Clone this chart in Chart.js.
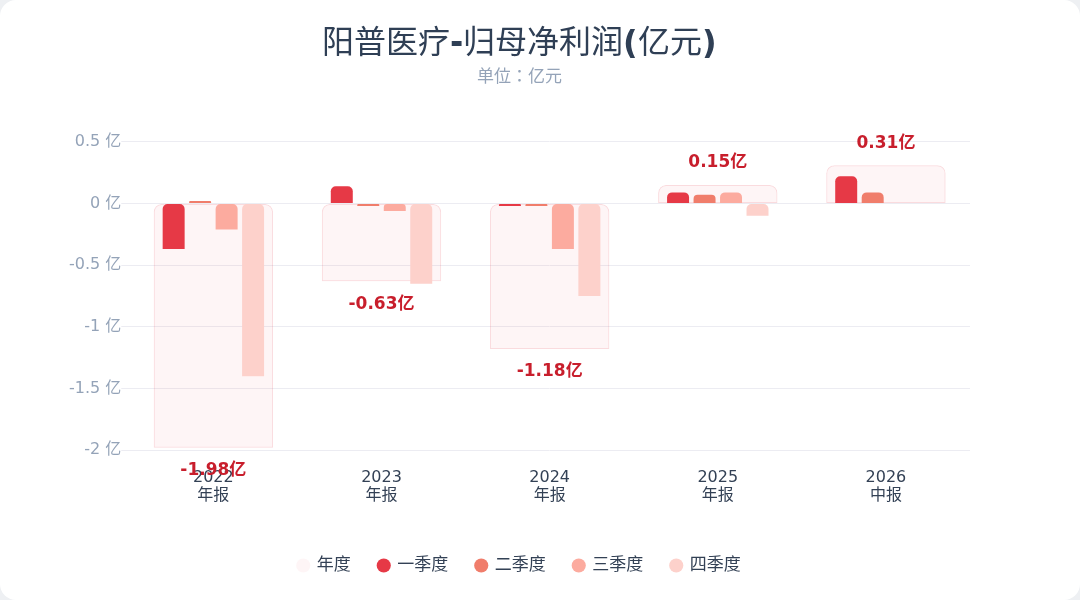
<!DOCTYPE html>
<html>
<head>
<meta charset="utf-8">
<script src="https://cdn.jsdelivr.net/npm/chart.js@4.4.1/dist/chart.umd.min.js"></script>
<style>
  /* 标题：拉丁字符粗体，中文常规 */
  @font-face { font-family: 'TitleMix'; src: local('DejaVu Sans Bold'), local('DejaVuSans-Bold'); unicode-range: U+0000-024F; }
  @font-face { font-family: 'TitleMix'; src: local('Noto Sans CJK SC'), local('Noto Sans CJK SC Regular'), local('NotoSansCJKsc-Regular'); unicode-range: U+2E80-FFFF; }
  html, body { margin: 0; padding: 0; background: #eef0f3; }
  .card { width: 1080px; height: 600px; background: #fff; border-radius: 16px; overflow: hidden; }
</style>
</head>
<body>
<div class="card"><canvas id="chart" width="1080" height="600"></canvas></div>
<script>
const FONT = '"DejaVu Sans", "Noto Sans CJK SC", sans-serif';
const TITLE_FONT = 'TitleMix, ' + FONT;

const years = ['2022', '2023', '2024', '2025', '2026'];
const periods = ['年报', '年报', '年报', '年报', '中报'];
const annual = [-1.98, -0.63, -1.18, 0.15, 0.31];
const q1 = [-0.37, 0.14, -0.02, 0.09, 0.22];
const q2 = [0.02, -0.02, -0.02, 0.07, 0.09];
const q3 = [-0.21, -0.06, -0.37, 0.09, null];
const q4 = [-1.40, -0.65, -0.75, -0.10, null];
const yTicks = [0.5, 0, -0.5, -1, -1.5, -2];

const labels = years.map((y, i) => [y, periods[i]]);

// 年度数值标签
const annualLabels = {
    id: 'annualLabels',
    afterDatasetsDraw(chart) {
        const meta = chart.getDatasetMeta(0);
        const ctx = chart.ctx;
        ctx.save();
        ctx.font = 'bold 17px ' + FONT;
        ctx.fillStyle = '#c81e2c';
        ctx.textAlign = 'center';
        ctx.textBaseline = 'middle';
        meta.data.forEach((bar, i) => {
            const v = annual[i];
            const y = v < 0 ? bar.y + 23 : bar.y - 22;
            ctx.fillText(v.toFixed(2) + '亿', bar.x, y);
        });
        ctx.restore();
    }
};

const qRadius = { topLeft: 5, topRight: 5, bottomLeft: 0, bottomRight: 0 };

function draw() {
    new Chart(document.getElementById('chart'), {
        type: 'bar',
        data: {
            labels: labels,
            datasets: [
                {
                    label: '年度',
                    data: annual,
                    grouped: false,
                    order: 2,
                    backgroundColor: 'rgba(230, 57, 70, 0.05)',
                    borderColor: 'rgba(230, 57, 70, 0.18)',
                    borderWidth: 1,
                    borderSkipped: false,
                    borderRadius: { topLeft: 8, topRight: 8, bottomLeft: 0, bottomRight: 0 },
                    categoryPercentage: 0.71,
                    barPercentage: 1
                },
                { label: '一季度', data: q1, order: 1, backgroundColor: '#e63946', borderRadius: qRadius, borderSkipped: false },
                { label: '二季度', data: q2, order: 1, backgroundColor: '#f07d6b', borderRadius: qRadius, borderSkipped: false },
                { label: '三季度', data: q3, order: 1, backgroundColor: '#fcab9f', borderRadius: qRadius, borderSkipped: false },
                { label: '四季度', data: q4, order: 1, backgroundColor: '#fdd1cb', borderRadius: qRadius, borderSkipped: false }
            ]
        },
        options: {
            responsive: false,
            animation: false,
            layout: { padding: { left: 69, right: 110, top: 14, bottom: 16 } },
            datasets: {
                bar: { categoryPercentage: 0.63, barPercentage: 0.83 }
            },
            scales: {
                x: {
                    grid: { display: false },
                    border: { display: false },
                    ticks: { color: '#334155', font: { family: FONT, size: 16, lineHeight: 1.15 }, padding: 10 },
                    afterFit(scale) { scale.height += 14; }
                },
                y: {
                    min: -2,
                    max: 0.5,
                    afterBuildTicks(scale) {
                        scale.ticks = yTicks.map(v => ({ value: v }));
                    },
                    grid: { color: '#ececf2' },
                    border: { display: false },
                    ticks: {
                        color: '#94a3b8',
                        font: { family: FONT, size: 16 },
                        padding: 0,
                        callback: v => v + ' 亿'
                    }
                }
            },
            plugins: {
                title: {
                    display: true,
                    text: '阳普医疗-归母净利润(亿元)',
                    color: '#2f3f55',
                    font: { family: TITLE_FONT, size: 32, weight: 'normal' },
                    padding: { top: 11, bottom: 2 }
                },
                subtitle: {
                    display: true,
                    text: '单位：亿元',
                    color: '#94a3b8',
                    font: { family: '"Noto Sans CJK JP", ' + FONT, size: 17 },
                    padding: { bottom: 56 }
                },
                legend: {
                    position: 'bottom',
                    labels: {
                        usePointStyle: true,
                        pointStyle: 'circle',
                        boxWidth: 10,
                        boxHeight: 10,
                        padding: 28,
                        color: '#334155',
                        font: { family: FONT, size: 17 },
                        sort: (a, b) => a.datasetIndex - b.datasetIndex,
                        generateLabels(chart) {
                            const items = Chart.defaults.plugins.legend.labels.generateLabels(chart);
                            items.forEach(it => { it.strokeStyle = it.fillStyle; it.lineWidth = 0; });
                            return items;
                        }
                    }
                },
                tooltip: { enabled: false }
            }
        },
        plugins: [annualLabels]
    });
}

document.fonts.load('32px TitleMix', '阳普医疗-归母净利润(亿元)').then(draw, draw);
</script>
</body>
</html>
